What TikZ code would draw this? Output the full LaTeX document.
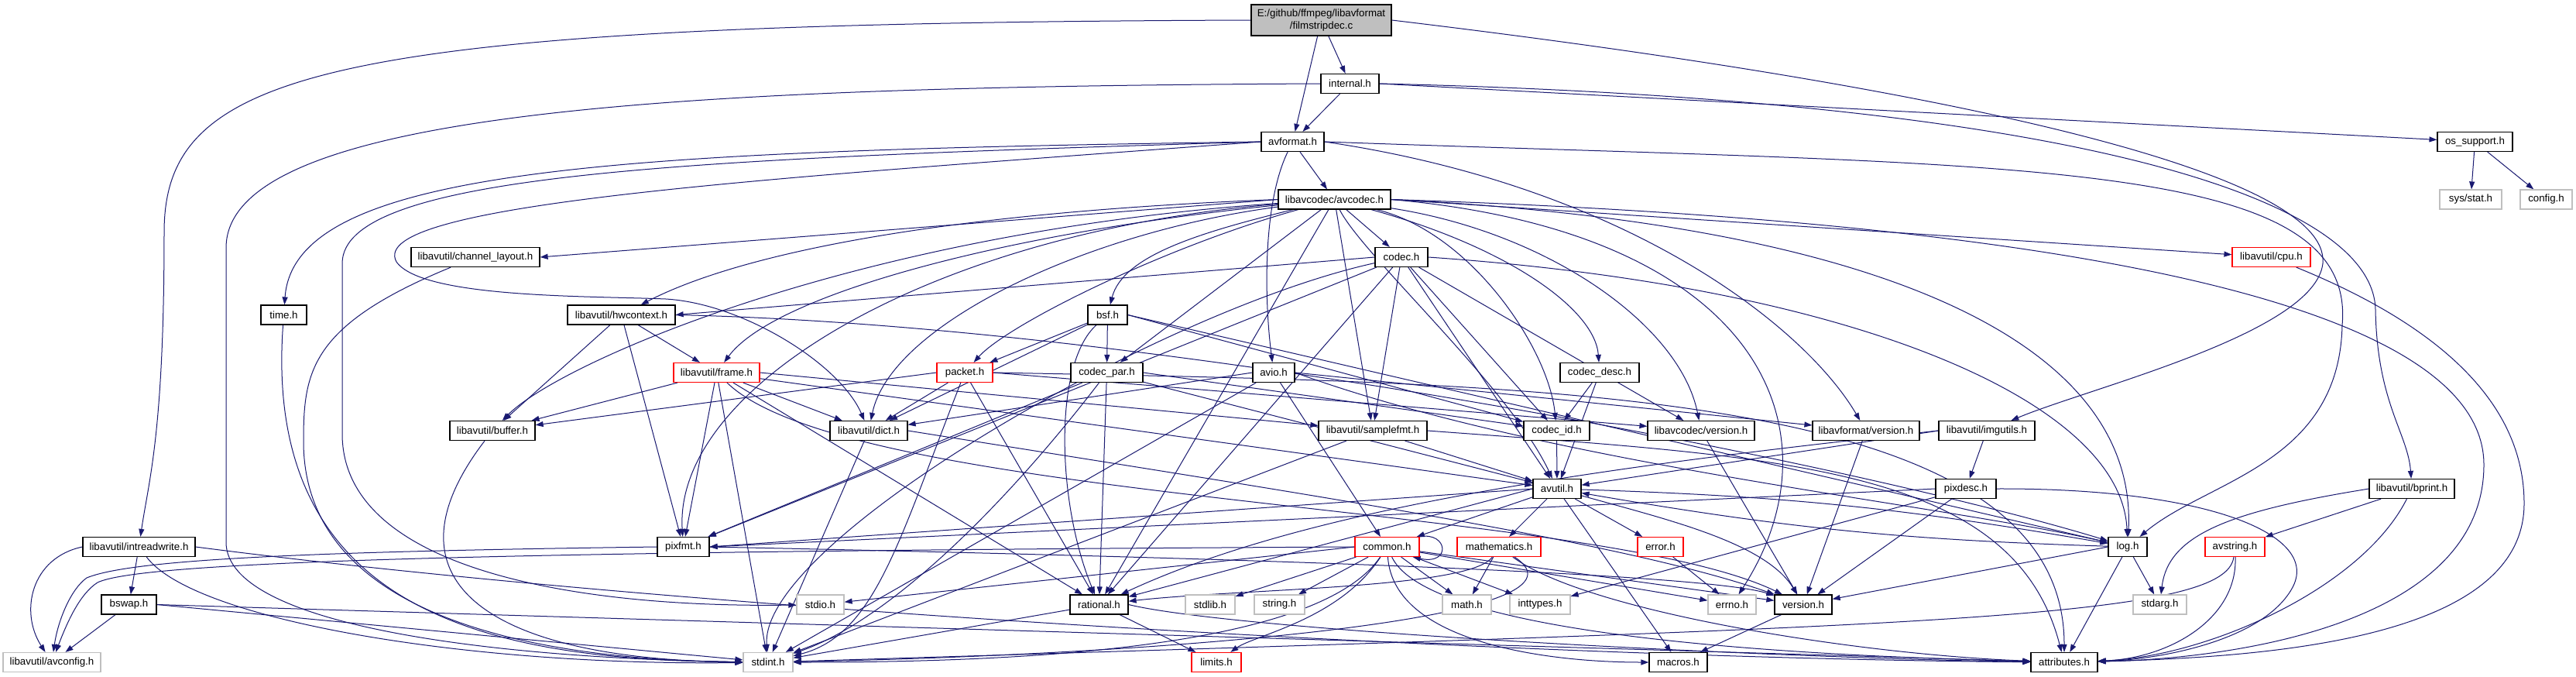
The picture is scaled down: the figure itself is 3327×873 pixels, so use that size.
\documentclass[tikz,border=0pt]{standalone}
\usepackage{fontspec}
\setmainfont{Liberation Sans}
\usetikzlibrary{arrows.meta}
\definecolor{edgeblue}{HTML}{191970}
\definecolor{extgrey}{HTML}{BFBFBF}
\definecolor{truncred}{HTML}{FF0000}
\pgfdeclarelayer{bg}
\pgfsetlayers{bg,main}

\begin{document}
\begin{tikzpicture}[
x=1pt, y=-1pt,
box/.style={rectangle, draw=black, line width=1.2pt, fill=white, minimum height=25pt, inner sep=0pt, font=\fontsize{13.3}{16}\selectfont},
sysbox/.style={box, draw=extgrey},
redbox/.style={box, draw=truncred},
rootbox/.style={box, fill=extgrey, minimum height=40pt, align=center},
line/.style={-{Triangle[length=10pt, width=7pt]}, draw=edgeblue, line width=1pt}
]
% rank 0 - 3
\node[rootbox, minimum width=181pt] (root) at (1706.5,26) {E:/github/ffmpeg/libavformat\\/filmstripdec.c};
\node[box, minimum width=75pt] (internal) at (1743.5,108) {internal.h};
\node[box, minimum width=81pt] (avformat) at (1669.5,183) {avformat.h};
\node[box, minimum width=97pt] (ossupport) at (3196.5,183) {os\_support.h};
\node[box, minimum width=145pt] (avcodec) at (1723.5,257.5) {libavcodec/avcodec.h};
\node[sysbox, minimum width=80pt] (sysstat) at (3191,257.5) {sys/stat.h};
\node[sysbox, minimum width=67pt] (config) at (3288.5,257.5) {config.h};
% rank 4 - 6
\node[box, minimum width=166pt] (chlayout) at (614,332) {libavutil/channel\_layout.h};
\node[box, minimum width=68pt] (codec) at (1810,332) {codec.h};
\node[redbox, minimum width=101pt] (cpu) at (2933.5,332) {libavutil/cpu.h};
\node[box, minimum width=59pt] (timeh) at (366.5,406.5) {time.h};
\node[box, minimum width=139pt] (hwctx) at (802.5,406.5) {libavutil/hwcontext.h};
\node[box, minimum width=51pt] (bsf) at (1430.5,406.5) {bsf.h};
\node[redbox, minimum width=111pt] (frame) at (925.5,481) {libavutil/frame.h};
\node[redbox, minimum width=72pt] (packet) at (1246,481) {packet.h};
\node[box, minimum width=93pt] (codecpar) at (1429.5,481) {codec\_par.h};
\node[box, minimum width=54pt] (avio) at (1645,481) {avio.h};
\node[box, minimum width=102pt] (codecdesc) at (2066,481) {codec\_desc.h};
% rank 7 - 8
\node[box, minimum width=110pt] (buffer) at (636,556) {libavutil/buffer.h};
\node[box, minimum width=100pt] (dict) at (1122,556) {libavutil/dict.h};
\node[box, minimum width=140pt] (samplefmt) at (1773,556) {libavutil/samplefmt.h};
\node[box, minimum width=85pt] (codecid) at (2010.5,556) {codec\_id.h};
\node[box, minimum width=138pt] (lavcversion) at (2197,556) {libavcodec/version.h};
\node[box, minimum width=138pt] (lavfversion) at (2410,556) {libavformat/version.h};
\node[box, minimum width=124pt] (imgutils) at (2566,556) {libavutil/imgutils.h};
\node[box, minimum width=62pt] (avutil) at (2011,631) {avutil.h};
\node[box, minimum width=78pt] (pixdesc) at (2539,631) {pixdesc.h};
\node[box, minimum width=110pt] (bprint) at (3115,631) {libavutil/bprint.h};
% rank 9
\node[box, minimum width=145pt] (intreadwrite) at (179.5,706) {libavutil/intreadwrite.h};
\node[box, minimum width=67pt] (pixfmt) at (882.5,706) {pixfmt.h};
\node[redbox, minimum width=83pt] (common) at (1791.5,706) {common.h};
\node[redbox, minimum width=108pt] (mathematics) at (1936,706) {mathematics.h};
\node[redbox, minimum width=59pt] (error) at (2144.5,706) {error.h};
\node[box, minimum width=50pt] (log) at (2748,706) {log.h};
\node[redbox, minimum width=77pt] (avstring) at (2886.5,706) {avstring.h};
% rank 10
\node[box, minimum width=71pt] (bswap) at (166.5,780.5) {bswap.h};
\node[sysbox, minimum width=61pt] (stdio) at (1059.5,780.5) {stdio.h};
\node[box, minimum width=75pt] (rational) at (1419.5,780.5) {rational.h};
\node[sysbox, minimum width=64pt] (stdlib) at (1563,780.5) {stdlib.h};
\node[sysbox, minimum width=65pt] (string) at (1652.5,780.5) {string.h};
\node[sysbox, minimum width=63pt] (math) at (1894.5,780.5) {math.h};
\node[sysbox, minimum width=78pt] (inttypes) at (1989,780.5) {inttypes.h};
\node[sysbox, minimum width=62pt] (errno) at (2237,780.5) {errno.h};
\node[box, minimum width=74pt] (version) at (2329,780.5) {version.h};
\node[sysbox, minimum width=69pt] (stdarg) at (2789.5,780.5) {stdarg.h};
% rank 11
\node[sysbox, minimum width=126pt] (avconfig) at (67,855) {libavutil/avconfig.h};
\node[sysbox, minimum width=64pt] (stdint) at (992,855) {stdint.h};
\node[redbox, minimum width=64pt] (limits) at (1571,855) {limits.h};
\node[box, minimum width=75pt] (macros) at (2167.5,855) {macros.h};
\node[box, minimum width=86pt] (attributes) at (2666,855) {attributes.h};

\begin{pgfonlayer}{bg}
\fill[white] (0,0) rectangle (3327,873);
% filmstripdec.c
\draw[line] (root) -- (internal);
\draw[line] (root) -- (avformat);
\draw[line] (root.west) .. controls (420,30) and (212,90) .. (212,300) .. controls (212,560) and (192,620) .. (intreadwrite);
\draw[line] (root.east) .. controls (2500,110) and (3010,220) .. (3000,340) .. controls (2990,430) and (2700,500) .. (imgutils);
% internal.h
\draw[line] (internal) -- (avformat);
\draw[line] (internal.east) -- (ossupport);
\draw[line] (internal.east) .. controls (2650,128) and (3065,250) .. (3068,400) .. controls (3070,520) and (3110,560) .. (bprint);
\draw[line] (internal.west) .. controls (900,112) and (292,140) .. (292,320) -- (292,700) .. controls (292,810) and (650,850) .. (stdint);
\draw[line] (ossupport) -- (sysstat);
\draw[line] (ossupport) -- (config);
% avformat.h
\draw[line] (avformat) -- (avcodec);
\draw[line] (avformat.west) .. controls (800,195) and (380,215) .. (timeh);
\draw[line] (avformat.west) .. controls (900,205) and (442,222) .. (442,340) -- (442,560) .. controls (442,740) and (760,785) .. (stdio);
\draw[line] (avformat.west) .. controls (1000,230) and (470,262) .. (512,338) .. controls (545,385) and (760,382) .. (860,386) .. controls (960,392) and (1085,470) .. (dict);
\draw[line] (avformat) .. controls (1632,260) and (1632,380) .. (avio);
\draw[line] (avformat.east) .. controls (2100,240) and (2330,420) .. (lavfversion);
\draw[line] (avformat.east) .. controls (2600,215) and (3045,200) .. (3025,420) .. controls (3021,600) and (2850,620) .. (log);
% avcodec.h
\draw[line] (avcodec) -- (codec);
\draw[line] (avcodec) .. controls (1550,300) and (1450,330) .. (bsf);
\draw[line] (avcodec.west) -- (chlayout.east);
\draw[line] (avcodec.west) .. controls (1200,275) and (950,330) .. (hwctx);
\draw[line] (avcodec) .. controls (1300,300) and (1000,380) .. (frame);
\draw[line] (avcodec) .. controls (1100,300) and (720,470) .. (buffer);
\draw[line] (avcodec) .. controls (1400,300) and (1150,420) .. (dict);
\draw[line] (avcodec) .. controls (1200,300) and (870,500) .. (pixfmt);
\draw[line] (avcodec) .. controls (1500,320) and (1300,420) .. (packet);
\draw[line] (avcodec) -- (codecpar);
\draw[line] (avcodec) -- (samplefmt);
\draw[line] (avcodec) .. controls (1900,300) and (2000,450) .. (codecid);
\draw[line] (avcodec) .. controls (1950,320) and (2060,400) .. (codecdesc);
\draw[line] (avcodec) .. controls (2000,300) and (2170,420) .. (lavcversion);
\draw[line] (avcodec) .. controls (1760,330) and (1950,500) .. (avutil);
\draw[line] (avcodec) -- (rational);
\draw[line] (avcodec.east) -- (cpu);
\draw[line] (avcodec.east) .. controls (2450,290) and (2760,450) .. (log);
\draw[line] (avcodec.east) .. controls (2800,290) and (3208,420) .. (3208,600) .. controls (3208,800) and (2900,850) .. (attributes);
\draw[line] (avcodec.east) .. controls (2280,300) and (2380,560) .. (errno);
% codec.h
\draw[line] (codec.west) -- (hwctx.east);
\draw[line] (codec) .. controls (1500,400) and (980,700) .. (stdint);
\draw[line] (codec) -- (avutil);
\draw[line] (codec.east) .. controls (2400,370) and (2740,520) .. (log);
\draw[line] (codec) -- (pixfmt);
\draw[line] (codec) -- (rational);
\draw[line] (codec) -- (samplefmt);
\draw[line] (codec) -- (codecid);
\draw[line] (codec) -- (lavcversion);
% channel_layout.h, cpu.h, time.h
\draw[line] (chlayout) .. controls (400,420) and (392,480) .. (392,570) .. controls (392,800) and (700,852) .. (stdint);
\draw[line] (cpu) .. controls (3150,420) and (3260,520) .. (3260,650) .. controls (3260,820) and (2950,848) .. (attributes);
\draw[line] (timeh) .. controls (338,800) and (650,852) .. (stdint);
% hwcontext.h
\draw[line] (hwctx) -- (buffer);
\draw[line] (hwctx) -- (frame);
\draw[line] (hwctx) -- (pixfmt);
\draw[line] (hwctx.east) .. controls (1500,420) and (2400,600) .. (log);
% bsf.h
\draw[line] (bsf) -- (dict);
\draw[line] (bsf) -- (packet);
\draw[line] (bsf) -- (codecpar);
\draw[line] (bsf) .. controls (1360,470) and (1365,650) .. (rational);
\draw[line] (bsf.east) -- (codecid);
\draw[line] (bsf.east) -- (log);
% frame.h
\draw[line] (frame) -- (buffer);
\draw[line] (frame) -- (dict);
\draw[line] (frame) -- (pixfmt);
\draw[line] (frame) -- (stdint);
\draw[line] (frame) -- (rational);
\draw[line] (frame.east) -- (samplefmt);
\draw[line] (frame) -- (avutil);
\draw[line] (frame) .. controls (1100,650) and (2060,650) .. (version);
% packet.h
\draw[line] (packet.west) -- (buffer);
\draw[line] (packet) -- (dict);
\draw[line] (packet) .. controls (1160,700) and (1130,820) .. (stdint);
\draw[line] (packet) -- (rational);
\draw[line] (packet.east) .. controls (2000,495) and (2666,500) .. (attributes);
\draw[line] (packet.east) -- (lavcversion);
% codec_par.h
\draw[line] (codecpar) -- (pixfmt);
\draw[line] (codecpar) .. controls (1300,650) and (1150,800) .. (stdint);
\draw[line] (codecpar) -- (rational);
\draw[line] (codecpar.east) -- (codecid);
\draw[line] (codecpar) -- (avutil);
% avio.h
\draw[line] (avio.west) -- (dict);
\draw[line] (avio) -- (stdint);
\draw[line] (avio) -- (common);
\draw[line] (avio.east) .. controls (2000,600) and (2500,650) .. (log);
\draw[line] (avio.east) -- (lavfversion);
% rank 6 - 7 leaves
\draw[line] (codecdesc) -- (codecid);
\draw[line] (codecdesc) -- (avutil);
\draw[line] (buffer) .. controls (480,760) and (650,852) .. (stdint);
\draw[line] (dict) -- (stdint);
\draw[line] (dict.east) .. controls (1700,640) and (2100,700) .. (version);
\draw[line] (samplefmt) -- (stdint);
\draw[line] (samplefmt) -- (avutil);
\draw[line] (samplefmt.east) .. controls (2300,590) and (2600,600) .. (attributes);
\draw[line] (codecid) -- (avutil);
\draw[line] (lavcversion) -- (version);
\draw[line] (lavfversion) -- (version);
% imgutils.h, pixdesc.h, bprint.h
\draw[line] (imgutils.west) -- (avutil);
\draw[line] (imgutils) -- (pixdesc);
\draw[line] (imgutils.west) .. controls (2100,600) and (1700,650) .. (rational);
\draw[line] (pixdesc) -- (inttypes);
\draw[line] (pixdesc.east) .. controls (2850,630) and (3000,690) .. (2960,760) .. controls (2920,830) and (2780,852) .. (attributes);
\draw[line] (pixdesc.west) -- (pixfmt.east);
\draw[line] (pixdesc) -- (version);
\draw[line] (bprint.west) .. controls (2880,660) and (2800,690) .. (stdarg);
\draw[line] (bprint) .. controls (3050,760) and (2850,848) .. (attributes);
\draw[line] (bprint) -- (avstring);
% avutil.h
\draw[line] (avutil) -- (common);
\draw[line] (avutil) -- (error);
\draw[line] (avutil) -- (macros);
\draw[line] (avutil) -- (mathematics);
\draw[line] (avutil.west) -- (rational);
\draw[line] (avutil) .. controls (2150,670) and (2280,700) .. (version);
\draw[line] (avutil) to[bend left=4] (log);
\draw[line] (avutil.west) -- (pixfmt.east);
% intreadwrite.h, bswap.h, pixfmt.h
\draw[line] (intreadwrite.west) .. controls (40,720) and (25,790) .. (avconfig);
\draw[line] (intreadwrite) -- (bswap);
\draw[line] (intreadwrite) .. controls (250,800) and (600,860) .. (stdint);
\draw[line] (intreadwrite.east) .. controls (900,790) and (2000,850) .. (attributes);
\draw[line] (bswap) -- (avconfig);
\draw[line] (bswap.east) -- (stdint);
\draw[line] (bswap.east) -- (attributes);
\draw[line] (pixfmt.west) .. controls (400,712) and (170,722) .. (112,746) .. controls (92,760) and (75,800) .. (avconfig);
\draw[line] (pixfmt.east) .. controls (1600,720) and (2200,740) .. (version);
% common.h
\draw[line] (common.north east) .. controls (1870,686) and (1875,730) .. ([xshift=-9pt]common.south east);
\draw[line] (common) -- (errno);
\draw[line] (common) -- (inttypes);
\draw[line] (common) .. controls (1730,800) and (1620,820) .. (limits);
\draw[line] (common) -- (math);
\draw[line] (common) .. controls (1700,840) and (1300,855) .. (stdint);
\draw[line] (common.west) -- (stdio);
\draw[line] (common) -- (stdlib);
\draw[line] (common) -- (string);
\draw[line] (common) .. controls (1850,830) and (2400,848) .. (attributes);
\draw[line] (common) .. controls (1800,830) and (2000,855) .. (macros);
\draw[line] (common) -- (version);
\draw[line] (common.west) .. controls (600,712) and (180,726) .. (126,752) .. controls (104,766) and (88,800) .. (avconfig);
% mathematics.h, error.h, log.h, avstring.h
\draw[line] (mathematics) -- (math);
\draw[line] (mathematics) .. controls (2080,800) and (1500,845) .. (stdint);
\draw[line] (mathematics) .. controls (2050,790) and (2400,845) .. (attributes);
\draw[line] (mathematics) .. controls (1900,760) and (1600,760) .. (rational);
\draw[line] (error) -- (errno);
\draw[line] (log) -- (stdarg);
\draw[line] (log) to[bend left=4] (avutil);
\draw[line] (log) -- (attributes);
\draw[line] (log.west) -- (version);
\draw[line] (avstring) .. controls (2875,800) and (2500,808) .. (stdint);
\draw[line] (avstring) .. controls (2890,800) and (2800,850) .. (attributes);
% rational.h, version.h
\draw[line] (rational) -- (stdint);
\draw[line] (rational) -- (limits);
\draw[line] (rational.east) .. controls (1600,815) and (2300,850) .. (attributes);
\draw[line] (version) -- (macros);
\end{pgfonlayer}
\end{tikzpicture}
\end{document}
